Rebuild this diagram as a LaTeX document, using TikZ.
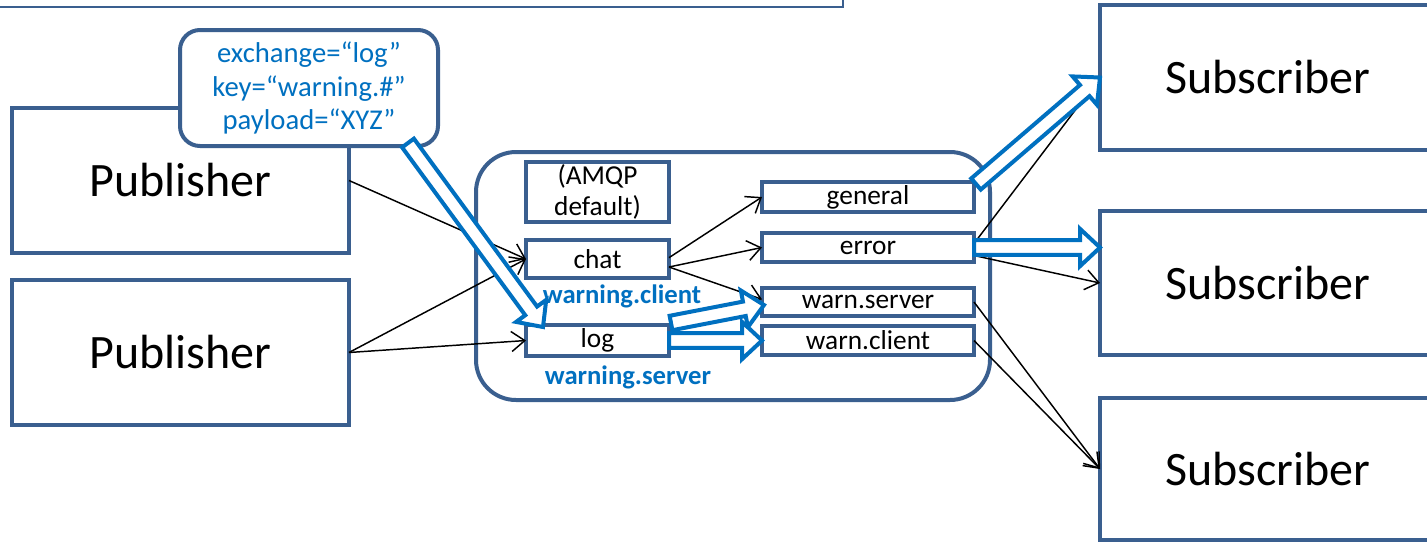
\documentclass[tikz,border=0pt]{standalone}
\usepackage{fontspec}
\setmainfont{Carlito}
\usetikzlibrary{calc,arrows.meta}
\definecolor{boxc}{HTML}{3A5F8F}
\definecolor{bluec}{HTML}{0070C0}
\tikzset{
 box/.style={draw=boxc, line width=3pt, fill=white, inner sep=0pt, outer sep=0pt},
 party/.style={box, font=\fontsize{36}{40}\selectfont},
 queue/.style={box, font=\fontsize{20.5}{23}\selectfont, align=center},
 thinarr/.style={draw=black, line width=1.1pt, -{Straight Barb[length=10pt,width=15pt]}},
 hollowarr/.style={draw=bluec, line width=3pt, fill=white, line join=miter},
 bluelabel/.style={text=bluec, font=\bfseries\fontsize{20}{23}\selectfont, inner sep=0pt},
}
% \boxnode{style}{name}{x1}{y1}{x2}{y2}{text}  (pixel coordinates)
\newcommand\boxnode[7]{%
 \node[#1, minimum width={(#5-#3)*0.75pt}, minimum height={(#6-#4)*0.75pt}]
   (#2) at ({(#3+#5)/2},{(#4+#6)/2}) {#7};
}
\newcommand\hollowarrow[2]{%
 \draw[hollowarr] let \p1=(#1), \p2=(#2),
   \n1={atan2(\y2-\y1,\x2-\x1)}, \n2={veclen(\x2-\x1,\y2-\y1)} in
   ($(\p1)+({\n1-90}:5.5pt)$) --
   ($(\p1)+(\n1:{\n2-15pt})+({\n1-90}:5.5pt)$) --
   ($(\p1)+(\n1:{\n2-15pt})+({\n1-90}:14pt)$) --
   (\p2) --
   ($(\p1)+(\n1:{\n2-15pt})+({\n1+90}:14pt)$) --
   ($(\p1)+(\n1:{\n2-15pt})+({\n1+90}:5.5pt)$) --
   ($(\p1)+({\n1+90}:5.5pt)$) -- cycle;
}
\begin{document}
\begin{tikzpicture}[x=0.75pt, y=-0.75pt]
\useasboundingbox (0,0) rectangle (1427,543);
% top frame (cut off)
\boxnode{draw=boxc, line width=1.3pt, inner sep=0pt, outer sep=0pt}{topbox}{-20}{-60}{843}{7}{}
% publishers and subscribers
\boxnode{party}{pub1}{12}{108}{349}{253}{Publisher}
\boxnode{party}{pub2}{12}{280}{349}{425}{Publisher}
\boxnode{party}{sub1}{1100}{5}{1436}{150}{Subscriber}
\boxnode{party}{sub2}{1100}{211}{1436}{355}{Subscriber}
\boxnode{party}{sub3}{1100}{398}{1436}{540}{Subscriber}
% broker
\boxnode{box, rounded corners=30pt}{broker}{476}{152}{990}{400}{}
\boxnode{queue}{amqp}{526}{162}{669}{222}{(AMQP\\default)}
\boxnode{queue}{chat}{526}{240}{669}{278}{chat}
\boxnode{queue}{log}{526}{325}{669}{356}{log}
\boxnode{queue}{general}{762}{182}{974}{212}{general}
\boxnode{queue}{error}{762}{233}{974}{262}{error}
\boxnode{queue}{warnserver}{762}{288}{974}{316}{warn.server}
\boxnode{queue}{warnclient}{762}{326}{974}{355}{warn.client}
\node[bluelabel] (lblclient) at (622,296) {warning.client};
\node[bluelabel] (lblserver) at (628,377) {warning.server};
% callout
\boxnode{box, rounded corners=15pt, text=bluec, align=center, font=\fontsize{21.5}{25}\selectfont}{callout}{180}{30}{438}{146}{exchange=“log”\\key=“warning.\#”\\payload=“XYZ”}
% thin black arrows
\draw[thinarr] (pub1.east) -- (chat.west);
\draw[thinarr] (pub2.east) -- (chat.west);
\draw[thinarr] (pub2.east) -- (log.west);
\draw[thinarr] ([yshift=1pt]chat.east) -- (general.west);
\draw[thinarr] ([yshift=-6pt]chat.east) -- (error.west);
\draw[thinarr] ([yshift=-6pt]chat.east) -- ([yshift=2pt]warnserver.west);
\draw[thinarr] ([yshift=3pt]error.east) -- (sub1.west);
\draw[thinarr] ([yshift=-6pt]error.east) -- (sub2.west);
\draw[thinarr] (warnserver.east) -- (sub3.west);
\draw[thinarr] (warnclient.east) -- (sub3.west);
% hollow blue arrows
\coordinate (ctail) at ($(callout.south east)+(-30,-3)$);
\coordinate (ctip) at ($(log.north west)+(17,2)$);
\hollowarrow{ctail}{ctip}
\hollowarrow{$(log.north east)+(2,-2)$}{$(warnserver.west)+(2,3)$}
\hollowarrow{log.east}{warnclient.west}
\hollowarrow{$(general.north east)+(2,2)$}{sub1.west}
\hollowarrow{error.east}{error.east -| sub2.west}
\end{tikzpicture}
\end{document}
